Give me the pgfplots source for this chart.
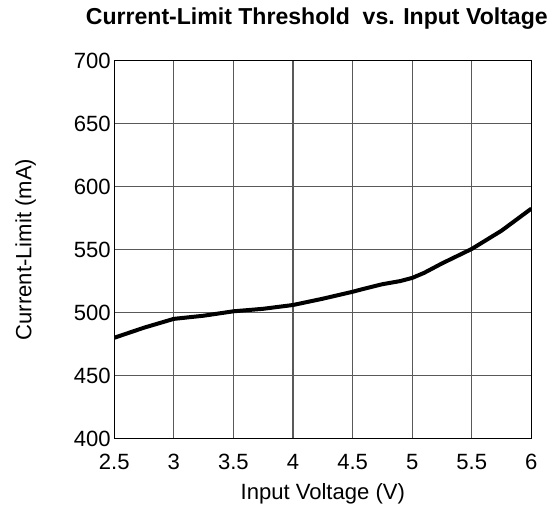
\documentclass[border={12bp 0bp 9bp 4bp}]{standalone}
\usepackage{pgfplots}
\pgfplotsset{compat=1.18}
\usepackage{fontspec}
\setmainfont{Liberation Sans}
\begin{document}
\begin{tikzpicture}
\begin{axis}[
    scale only axis,
    width=416bp, height=377bp,
    xmin=2.5, xmax=6, ymin=400, ymax=700,
    xtick={2.5,3,...,6}, ytick={400,450,...,700},
    /pgf/number format/assume math mode=true,
    ticklabel style={font=\fontsize{22bp}{26bp}\selectfont},
    xticklabel style={yshift=-12bp},
    label style={font=\fontsize{22bp}{26bp}\selectfont},
    title style={font=\fontsize{23bp}{27bp}\selectfont\bfseries, yshift=22bp, xshift=-6bp},
    title={Current-Limit Threshold\ \ vs. Input Voltage},
    xlabel={Input Voltage (V)},
    xlabel style={yshift=-7bp},
    ylabel={Current-Limit (mA)},
    ylabel style={yshift=31bp},
    grid=major,
    major grid style={black!65, line width=1.1pt},
    axis line style={black, line width=1.2pt},
    tick style={draw=none},
]
\addplot[black, line width=4pt, line join=round] coordinates {
    (2.5,480) (2.75,488) (3,495) (3.25,497.5) (3.5,501) (3.75,503)
    (4,506) (4.25,511) (4.5,516.5) (4.6,519) (4.75,522.5) (4.9,525)
    (5,527.5) (5.1,531.5) (5.25,539) (5.5,550.5) (5.75,565) (6,582.5)
};
\end{axis}
\end{tikzpicture}
\end{document}
